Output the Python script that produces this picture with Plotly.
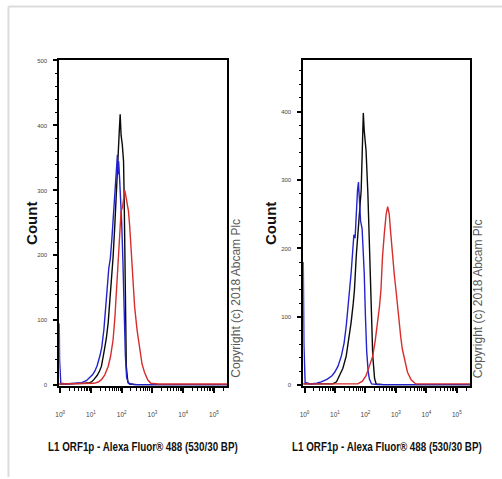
import numpy as np
import plotly.graph_objects as go

# ---------------- data (log10 of fluorescence, count) ----------------
# Left panel
blue_l_exp = [-0.03, -0.02, 0.02, 0.2, 0.5, 0.7, 0.85, 0.95, 1.05, 1.13, 1.2, 1.29, 1.35, 1.42, 1.48, 1.53,
              1.58, 1.63, 1.68, 1.73, 1.78, 1.83, 1.86, 1.88, 1.9, 1.93, 1.97, 2.0, 2.04, 2.08, 2.12, 2.16,
              2.22, 2.4, 5.43]
blue_l_cnt = [95, 40, 3, 2, 3, 4, 7, 11, 16, 22, 30, 45, 58, 85, 115, 150, 180, 195, 225, 260, 300, 345, 355,
              325, 345, 320, 290, 250, 190, 110, 45, 12, 3, 1, 1]
black_l_exp = [-0.03, 0.3, 0.6, 0.8, 0.95, 1.02, 1.1, 1.2, 1.28, 1.34, 1.42, 1.5, 1.56, 1.64, 1.72, 1.78,
               1.84, 1.88, 1.92, 1.95, 1.98, 2.02, 2.06, 2.08, 2.1, 2.12, 2.15, 2.2, 2.26, 2.5, 5.43]
black_l_cnt = [2, 2, 2, 3, 4, 5, 9, 15, 22, 29, 50, 72, 96, 140, 197, 250, 320, 360, 390, 417, 385, 370, 345,
               290, 200, 110, 29, 5, 2, 1, 1]
red_l_exp = [-0.03, 0.5, 0.9, 1.1, 1.24, 1.35, 1.45, 1.56, 1.64, 1.72, 1.78, 1.83, 1.88, 1.92, 1.95, 1.98,
             2.03, 2.07, 2.1, 2.14, 2.18, 2.22, 2.26, 2.31, 2.36, 2.42, 2.5, 2.58, 2.66, 2.74, 2.85, 2.95,
             3.2, 5.43]
red_l_cnt = [2, 2, 2, 3, 5, 9, 16, 29, 45, 70, 105, 147, 190, 215, 240, 268, 275, 290, 300, 290, 276, 268,
             245, 205, 170, 121, 85, 55, 33, 20, 8, 3, 2, 2]

# Right panel
blue_r_exp = [-0.04, -0.02, 0.02, 0.2, 0.4, 0.55, 0.75, 0.9, 0.99, 1.1, 1.21, 1.3, 1.37, 1.42, 1.48, 1.53,
              1.57, 1.62, 1.66, 1.7, 1.74, 1.77, 1.8, 1.84, 1.89, 1.92, 1.96, 2.0, 2.04, 2.09, 2.13, 2.2,
              2.4, 5.44]
blue_r_cnt = [180, 60, 4, 2, 3, 5, 9, 14, 19, 28, 43, 62, 87, 116, 140, 164, 190, 220, 215, 260, 285, 297,
              275, 240, 229, 205, 164, 100, 50, 20, 9, 2, 1, 1]
black_r_exp = [-0.04, 0.4, 0.7, 0.93, 1.05, 1.15, 1.26, 1.37, 1.45, 1.53, 1.6, 1.64, 1.7, 1.75, 1.8, 1.86,
               1.9, 1.93, 1.96, 2.02, 2.08, 2.13, 2.18, 2.24, 2.3, 2.35, 2.6, 5.44]
black_r_cnt = [2, 2, 2, 2, 5, 14, 25, 43, 65, 92, 120, 140, 190, 215, 250, 285, 345, 398, 372, 343, 280,
               203, 116, 43, 10, 2, 1, 1]
red_r_exp = [-0.04, 1.0, 1.5, 1.75, 1.9, 2.02, 2.13, 2.24, 2.32, 2.4, 2.46, 2.51, 2.56, 2.62, 2.68, 2.73,
             2.78, 2.83, 2.89, 2.95, 3.0, 3.05, 3.1, 3.16, 3.21, 3.3, 3.38, 3.5, 3.65, 3.9, 5.44]
red_r_cnt = [2, 2, 2, 2, 6, 14, 28, 43, 65, 92, 115, 140, 188, 222, 250, 261, 250, 222, 188, 160, 140, 115,
             92, 70, 53, 33, 19, 8, 2, 2, 2]

x_tick_exps = [0, 1, 2, 3, 4, 5]
x_tick_text = ["10<sup>%d</sup>" % e for e in x_tick_exps]
y_ticks_left = [0, 100, 200, 300, 400, 500]
y_ticks_right = [0, 100, 200, 300, 400]
x_title = "L1 ORF1p - Alexa Fluor® 488 (530/30 BP)"
y_title = "Count"
copyright_text = "Copyright (c) 2018 Abcam Plc"

BLUE = "rgb(35,35,205)"
BLACK = "rgb(10,10,10)"
RED = "rgb(215,45,45)"

W, H = 502, 479
def fx(px): return px / W
def fy(py): return 1 - py / H

fig = go.Figure()
for exps, cnts, col in [(black_l_exp, black_l_cnt, BLACK), (blue_l_exp, blue_l_cnt, BLUE),
                        (red_l_exp, red_l_cnt, RED)]:
    fig.add_trace(go.Scatter(x=10 ** np.array(exps), y=cnts, mode="lines",
                             line=dict(color=col, width=1.4), xaxis="x", yaxis="y", showlegend=False))
for exps, cnts, col in [(black_r_exp, black_r_cnt, BLACK), (blue_r_exp, blue_r_cnt, BLUE),
                        (red_r_exp, red_r_cnt, RED)]:
    fig.add_trace(go.Scatter(x=10 ** np.array(exps), y=cnts, mode="lines",
                             line=dict(color=col, width=1.4), xaxis="x2", yaxis="y2", showlegend=False))

minor_x = [m * 10 ** d for d in range(0, 6) for m in range(2, 10)]
tickfont = dict(family="Liberation Sans, Arial, sans-serif", size=6, color="#444")

def xaxis(domain, rng, anchor):
    return dict(domain=domain, type="log", range=rng, anchor=anchor,
                tickmode="array", tickvals=[10 ** e for e in x_tick_exps], ticktext=x_tick_text,
                ticks="outside", ticklen=5, tickwidth=1.5, tickcolor="black",
                ticklabelstandoff=16, tickfont=dict(tickfont, size=6.5),
                minor=dict(tickmode="array", tickvals=minor_x, ticks="outside", ticklen=3,
                           tickcolor="black", tickwidth=1, showgrid=False),
                showline=True, linecolor="black", linewidth=1.8, mirror=True,
                showgrid=False, zeroline=False)

def yaxis(domain, rng, anchor, tv):
    return dict(domain=domain, range=rng, anchor=anchor,
                tickmode="array", tickvals=tv, ticks="outside", ticklen=4, tickwidth=1.5,
                tickcolor="black", tickfont=tickfont, ticklabelstandoff=5,
                minor=dict(dtick=20, ticks="outside", ticklen=2, tickcolor="black", tickwidth=1,
                           showgrid=False),
                showline=True, linecolor="black", linewidth=1.8, mirror=True,
                showgrid=False, zeroline=False)

ydom = [fy(387.2), fy(58)]
fig.update_layout(
    width=W, height=H, margin=dict(l=0, r=0, t=0, b=0),
    paper_bgcolor="white", plot_bgcolor="white",
    xaxis=xaxis([fx(55.7), fx(225)], [-0.03, 5.43], "y"),
    yaxis=yaxis(ydom, [-1.1, 501.5], "x", y_ticks_left),
    xaxis2=xaxis([fx(301.7), fx(470)], [-0.04, 5.44], "y2"),
    yaxis2=yaxis(ydom, [-1.0, 476], "x2", y_ticks_right),
)

title_font = dict(family="Liberation Sans Narrow, Arial Narrow, Liberation Sans, Arial, sans-serif",
                  size=9.8, color="#111")
count_font = dict(family="Liberation Sans, Arial, sans-serif", size=15, color="#111")
copy_font = dict(family="Liberation Sans, Arial, sans-serif", size=12, color="#5a5a5a")
anns = []
for cx in [140.4, 386]:
    anns.append(dict(text="<b>%s</b>" % x_title, x=fx(cx), y=fy(448), xref="paper", yref="paper",
                     showarrow=False, font=title_font, xanchor="center", yanchor="middle"))
for cx in [27, 268]:
    anns.append(dict(text="<b>%s</b>" % y_title, x=fx(cx), y=fy(223), xref="paper", yref="paper",
                     showarrow=False, font=count_font, textangle=-90, xanchor="center", yanchor="middle"))
for cx in [233, 477.5]:
    anns.append(dict(text=copyright_text, x=fx(cx), y=fy(299), xref="paper", yref="paper",
                     showarrow=False, font=copy_font, textangle=-90, xanchor="center", yanchor="middle"))
fig.update_layout(annotations=anns)

# light outer frame of the image
fig.update_layout(shapes=[
    dict(type="line", xref="paper", yref="paper", x0=fx(4.5), x1=1.0, y0=fy(4.5), y1=fy(4.5),
         line=dict(color="#dcdcdc", width=2)),
    dict(type="line", xref="paper", yref="paper", x0=fx(4.5), x1=fx(4.5), y0=fy(4.5), y1=0,
         line=dict(color="#dcdcdc", width=2)),
])

post = """
document.body.style.margin='0';
document.querySelectorAll('text.annotation-text').forEach(function(t){
  if (t.textContent.indexOf('L1 ORF1p') === 0) {
    t.style.transformBox = 'fill-box';
    t.style.transformOrigin = 'center';
    t.style.transform = 'scaleY(1.35)';
  }
});
"""
fig.write_html("out.html", post_script=post, config={"displayModeBar": False})
